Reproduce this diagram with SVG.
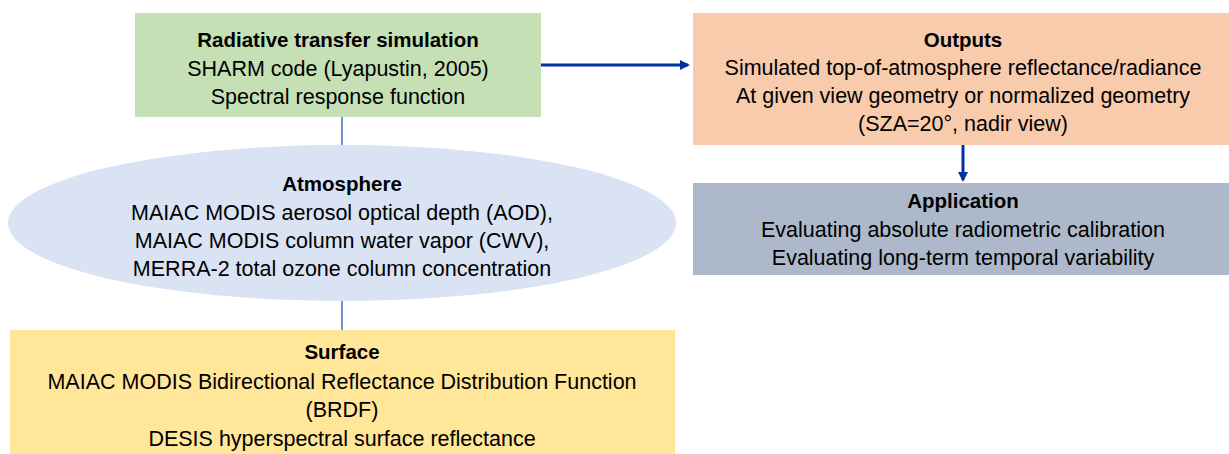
<svg xmlns="http://www.w3.org/2000/svg" width="1229" height="454" viewBox="0 0 1229 454">
<defs>
<style>
text{font-family:"Liberation Sans",Arial,sans-serif;font-size:21.5px;fill:#000;text-anchor:middle}
.b{font-weight:bold;font-size:20.5px}
.c{stroke:#4472C4;stroke-width:1.5;fill:none}
.a{stroke:#0033A0;stroke-width:3;fill:none}
</style>
<marker id="ah" markerWidth="10" markerHeight="10" refX="8" refY="5" orient="auto" markerUnits="userSpaceOnUse">
<path d="M0,0 L10,5 L0,10 Z" fill="#0033A0"/>
</marker>
</defs>
<rect width="1229" height="454" fill="#fff"/>
<g id="connectors">
<line class="c" x1="342" y1="117" x2="342" y2="146"/>
<line class="c" x1="342" y1="301" x2="342" y2="331"/>
<line class="a" x1="541" y1="65" x2="688" y2="65" marker-end="url(#ah)"/>
<line class="a" x1="963" y1="145" x2="963" y2="180" marker-end="url(#ah)"/>
</g>
<g id="rt">
<rect x="135" y="13" width="406" height="104" fill="#C5E0B4"/>
<text x="338" y="47" class="b">Radiative transfer simulation</text>
<text x="338" y="76">SHARM code (Lyapustin, 2005)</text>
<text x="338" y="104">Spectral response function</text>
</g>
<g id="outputs">
<rect x="693" y="13" width="536" height="132" fill="#F8CBAD"/>
<text x="963" y="47" class="b">Outputs</text>
<text x="963" y="75">Simulated top-of-atmosphere reflectance/radiance</text>
<text x="963" y="103">At given view geometry or normalized geometry</text>
<text x="963" y="131">(SZA=20°, nadir view)</text>
</g>
<g id="application">
<rect x="693" y="183" width="536" height="92" fill="#ADB9CA"/>
<text x="963" y="208" class="b">Application</text>
<text x="963" y="237">Evaluating absolute radiometric calibration</text>
<text x="963" y="265">Evaluating long-term temporal variability</text>
</g>
<g id="atmosphere">
<ellipse cx="342" cy="223" rx="334" ry="78" fill="#DAE3F3"/>
<text x="342" y="191" class="b">Atmosphere</text>
<text x="342" y="220">MAIAC MODIS aerosol optical depth (AOD),</text>
<text x="342" y="248">MAIAC MODIS column water vapor (CWV),</text>
<text x="342" y="276">MERRA-2 total ozone column concentration</text>
</g>
<g id="surface">
<rect x="10" y="330" width="665" height="124" fill="#FFE699"/>
<text x="342" y="359" class="b">Surface</text>
<text x="342" y="389">MAIAC MODIS Bidirectional Reflectance Distribution Function</text>
<text x="342" y="417">(BRDF)</text>
<text x="342" y="446">DESIS hyperspectral surface reflectance</text>
</g>
</svg>
